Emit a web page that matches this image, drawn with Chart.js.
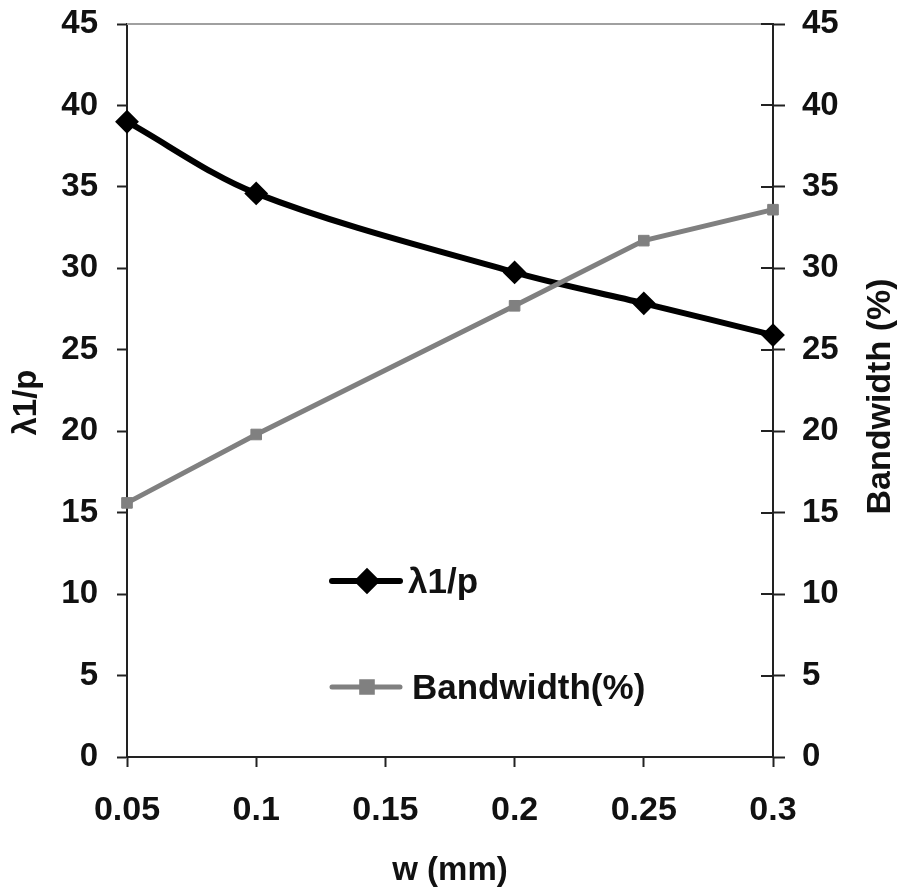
<!DOCTYPE html>
<html><head><meta charset="utf-8">
<script src="https://cdn.jsdelivr.net/npm/chart.js@4"></script>
<style>html,body{margin:0;padding:0;background:#fff;} canvas{display:block;}</style>
</head><body>
<canvas id="c" width="898" height="891"></canvas>
<script>
// ---- data ----
const wValues = [0.05, 0.1, 0.2, 0.25, 0.3];
const lambdaRatio = [39.0, 34.6, 29.75, 27.85, 25.9];
const bandwidth = [15.6, 19.8, 27.7, 31.7, 33.6];
const xTickValues = [0.05, 0.1, 0.15, 0.2, 0.25, 0.3];
const yTickValues = [0, 5, 10, 15, 20, 25, 30, 35, 40, 45];
const seriesNames = ['λ1/p', 'Bandwidth(%)'];
const xTitle = 'w (mm)';
const yTitle = 'λ1/p';
const y2Title = 'Bandwidth (%)';

// ---- style ----
const FONT = '"Liberation Sans", Arial, Helvetica, sans-serif';
const textColor = '#111';
const axisColor = '#222';
const blackCol = '#000000';
const grayCol = '#808080';

const toPts = (xs, ys) => xs.map((x, i) => ({x: x, y: ys[i]}));

const decor = {
  id: 'decor',
  beforeDatasetsDraw(chart) {
    const {ctx, chartArea: a} = chart;
    ctx.save();
    ctx.strokeStyle = '#a0a0a0';
    ctx.lineWidth = 2;
    ctx.beginPath(); ctx.moveTo(a.left, a.top); ctx.lineTo(a.right - 12, a.top); ctx.stroke();
    const s = chart.scales.y2;
    ctx.strokeStyle = axisColor;
    ctx.lineWidth = 2;
    s.ticks.forEach(t => {
      const py = Math.round(s.getPixelForValue(t.value));
      ctx.beginPath(); ctx.moveTo(s.left - 12, py); ctx.lineTo(s.left, py); ctx.stroke();
    });
    ctx.restore();
  },
  afterDraw(chart) {
    const {ctx, chartArea: a} = chart;
    const cy = (a.top + a.bottom) / 2;
    ctx.save();
    ctx.fillStyle = textColor;
    ctx.textAlign = 'center';
    ctx.textBaseline = 'alphabetic';
    ctx.font = 'bold 33px ' + FONT;
    ctx.save(); ctx.translate(36, cy + 12); ctx.rotate(-Math.PI / 2); ctx.fillText(yTitle, 0, 0); ctx.restore();
    ctx.font = 'bold 34px ' + FONT;
    ctx.save(); ctx.translate(890, cy + 6); ctx.rotate(-Math.PI / 2); ctx.fillText(y2Title, 0, 0); ctx.restore();

    // legend inside plot
    const items = [
      {ds: chart.data.datasets[0], y: 581, tx: 408, r: 9},
      {ds: chart.data.datasets[1], y: 687, tx: 412, r: 7.5}
    ];
    items.forEach((it, i) => {
      const ds = it.ds;
      ctx.strokeStyle = ds.borderColor;
      ctx.lineWidth = ds.borderWidth;
      ctx.lineCap = 'round';
      ctx.beginPath(); ctx.moveTo(332, it.y); ctx.lineTo(400, it.y); ctx.stroke();
      ctx.fillStyle = ds.pointBackgroundColor;
      ctx.strokeStyle = ds.pointBorderColor;
      Chart.helpers.drawPoint(ctx, {pointStyle: ds.pointStyle, rotation: 0, radius: it.r, borderWidth: ds.pointBorderWidth}, 367, it.y);
      ctx.fillStyle = textColor;
      ctx.textAlign = 'left';
      ctx.textBaseline = 'alphabetic';
      ctx.font = 'bold 35px ' + FONT;
      ctx.fillText(seriesNames[i], it.tx, it.y + 12);
    });
    ctx.restore();
  }
};

const fitY = w => s => { s.width = w; s.paddingTop = 0; s.paddingBottom = 0; };

new Chart(document.getElementById('c'), {
  type: 'line',
  data: {
    datasets: [
      {
        label: seriesNames[0],
        data: toPts(wValues, lambdaRatio),
        yAxisID: 'y',
        borderColor: blackCol,
        borderWidth: 6,
        tension: 0.33,
        pointStyle: 'rectRot',
        pointRadius: 10.5,
        pointBorderWidth: 2,
        pointBackgroundColor: blackCol,
        pointBorderColor: blackCol,
        clip: false,
        order: 1
      },
      {
        label: seriesNames[1],
        data: toPts(wValues, bandwidth),
        yAxisID: 'y2',
        borderColor: grayCol,
        borderWidth: 5,
        tension: 0,
        pointStyle: 'rect',
        pointRadius: 7.5,
        pointBorderWidth: 1,
        pointBackgroundColor: grayCol,
        pointBorderColor: grayCol,
        clip: false,
        order: 0
      }
    ]
  },
  options: {
    responsive: false,
    animation: false,
    devicePixelRatio: 1,
    layout: {padding: {top: 24, left: 0, right: 0, bottom: 0}},
    plugins: {legend: {display: false}, tooltip: {enabled: false}},
    scales: {
      x: {
        type: 'linear',
        min: xTickValues[0],
        max: xTickValues[xTickValues.length - 1],
        afterBuildTicks: s => { s.ticks = xTickValues.map(v => ({value: v})); },
        afterFit: s => { s.height = 134; s.paddingLeft = 0; s.paddingRight = 0; },
        border: {display: true, color: axisColor, width: 2},
        grid: {display: true, drawOnChartArea: false, drawTicks: true, tickLength: 10, tickColor: axisColor, tickWidth: 2},
        ticks: {padding: 23, color: textColor, font: {family: FONT, size: 34, weight: 'bold'}, callback: v => String(v), maxRotation: 0, autoSkip: false},
        title: {display: true, text: xTitle, color: textColor, font: {family: FONT, size: 33, weight: 'bold'}, padding: {top: 0, bottom: 0}}
      },
      y: {
        type: 'linear',
        position: 'left',
        min: 0, max: 45,
        afterBuildTicks: s => { s.ticks = yTickValues.map(v => ({value: v})); },
        afterFit: fitY(127),
        border: {display: true, color: axisColor, width: 2},
        grid: {display: true, drawOnChartArea: false, drawTicks: true, tickLength: 10, tickColor: axisColor, tickWidth: 2},
        ticks: {padding: 19, color: textColor, font: {family: FONT, size: 33, weight: 'bold'}},
        title: {display: false}
      },
      y2: {
        type: 'linear',
        position: 'right',
        min: 0, max: 45,
        afterBuildTicks: s => { s.ticks = yTickValues.map(v => ({value: v})); },
        afterFit: fitY(125),
        border: {display: true, color: axisColor, width: 2},
        grid: {display: true, drawOnChartArea: false, drawTicks: true, tickLength: 12, tickColor: axisColor, tickWidth: 2},
        ticks: {padding: 17, color: textColor, font: {family: FONT, size: 33, weight: 'bold'}},
        title: {display: false}
      }
    }
  },
  plugins: [decor]
});
</script>
</body></html>
